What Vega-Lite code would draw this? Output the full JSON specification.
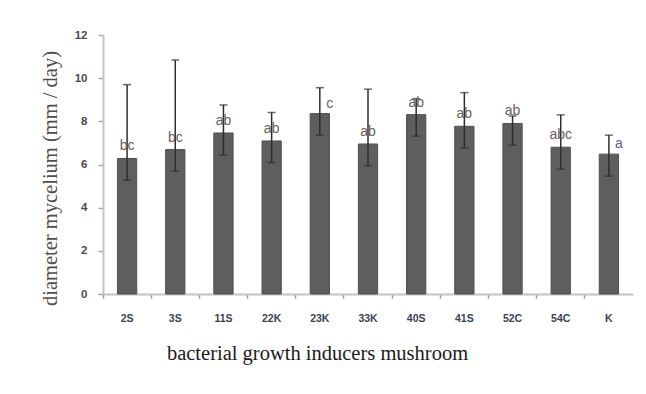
{
  "$schema": "https://vega.github.io/schema/vega-lite/v6.json",
  "width": 530,
  "height": 259,
  "autosize": {"type": "none"},
  "padding": {"left": 103, "top": 35, "right": 13, "bottom": 100},
  "background": "white",
  "config": {"view": {"stroke": null}},
  "data": {
    "values": [
      {"name": "2S", "mean": 6.28, "lo": 5.27, "hi": 9.70, "label": "bc"},
      {"name": "3S", "mean": 6.69, "lo": 5.69, "hi": 10.84, "label": "bc"},
      {"name": "11S", "mean": 7.46, "lo": 6.44, "hi": 8.76, "label": "ab"},
      {"name": "22K", "mean": 7.09, "lo": 6.09, "hi": 8.41, "label": "ab"},
      {"name": "23K", "mean": 8.36, "lo": 7.36, "hi": 9.56, "label": "c"},
      {"name": "33K", "mean": 6.95, "lo": 5.94, "hi": 9.49, "label": "ab"},
      {"name": "40S", "mean": 8.31, "lo": 7.31, "hi": 9.05, "label": "ab"},
      {"name": "41S", "mean": 7.77, "lo": 6.77, "hi": 9.33, "label": "ab"},
      {"name": "52C", "mean": 7.90, "lo": 6.89, "hi": 8.25, "label": "ab"},
      {"name": "54C", "mean": 6.80, "lo": 5.78, "hi": 8.30, "label": "abc"},
      {"name": "K", "mean": 6.48, "lo": 5.46, "hi": 7.36, "label": "a"}
    ]
  },
  "encoding": {
    "x": {
      "field": "name",
      "type": "nominal",
      "sort": null,
      "scale": {"paddingInner": 0.6, "paddingOuter": 0.3},
      "axis": {
        "title": "bacterial growth inducers mushroom",
        "titleFont": "Liberation Serif",
        "titleFontSize": 20.5,
        "titleFontWeight": "normal",
        "titleColor": "#1a1a1a",
        "titleX": 214,
        "titleY": 65,
        "titleAlign": "center",
        "titleBaseline": "alphabetic",
        "labelAngle": 0,
        "labelFont": "Liberation Sans",
        "labelFontWeight": "bold",
        "labelFontSize": 10.5,
        "labelColor": "#3c4150",
        "labelPadding": 15,
        "ticks": true,
        "bandPosition": -0.75,
        "tickSize": 4,
        "tickColor": "#999999",
        "tickWidth": 1.5,
        "domainColor": "#c4c4c4",
        "domainWidth": 2
      }
    }
  },
  "layer": [
    {
      "mark": {"type": "bar", "color": "#5e5e5e", "stroke": "#505050", "strokeWidth": 1},
      "encoding": {
        "y": {
          "field": "mean",
          "type": "quantitative",
          "scale": {"domain": [0, 12]},
          "axis": {
            "values": [0, 2, 4, 6, 8, 10, 12],
            "grid": false,
            "title": "diameter mycelium (mm / day)",
            "titleFont": "Liberation Serif",
            "titleFontSize": 20.5,
            "titleFontWeight": "normal",
            "titleColor": "#574d47",
            "titleAngle": 270,
            "titleX": -53,
            "titleY": 143,
            "titleAlign": "center",
            "titleBaseline": "middle",
            "labelFont": "Liberation Sans",
            "labelFontWeight": "bold",
            "labelFontSize": 11.5,
            "labelColor": "#4a4a4a",
            "labelPadding": 11,
            "tickSize": 5,
            "tickColor": "#a8a8a8",
            "tickWidth": 1.5,
            "domainColor": "#c4c4c4",
            "domainWidth": 2
          }
        }
      }
    },
    {
      "mark": {"type": "rule", "color": "#2e2e2e", "strokeWidth": 1.5},
      "encoding": {
        "y": {"field": "lo", "type": "quantitative"},
        "y2": {"field": "hi"}
      }
    },
    {
      "mark": {"type": "tick", "color": "#2e2e2e", "size": 8, "thickness": 1.5},
      "encoding": {"y": {"field": "hi", "type": "quantitative"}}
    },
    {
      "mark": {"type": "tick", "color": "#2e2e2e", "size": 8, "thickness": 1.5},
      "encoding": {"y": {"field": "lo", "type": "quantitative"}}
    },
    {
      "transform": [{"filter": "length(datum.label) > 1"}],
      "mark": {"type": "text", "baseline": "middle", "align": "center", "dy": -12, "font": "Liberation Sans", "fontSize": 14, "color": "#6a5e58"},
      "encoding": {
        "y": {"field": "mean", "type": "quantitative"},
        "text": {"field": "label"}
      }
    },
    {
      "transform": [{"filter": "length(datum.label) == 1"}],
      "mark": {"type": "text", "baseline": "middle", "align": "center", "dy": -10, "dx": 10, "font": "Liberation Sans", "fontSize": 14, "color": "#5e6478"},
      "encoding": {
        "y": {"field": "mean", "type": "quantitative"},
        "text": {"field": "label"}
      }
    }
  ]
}
